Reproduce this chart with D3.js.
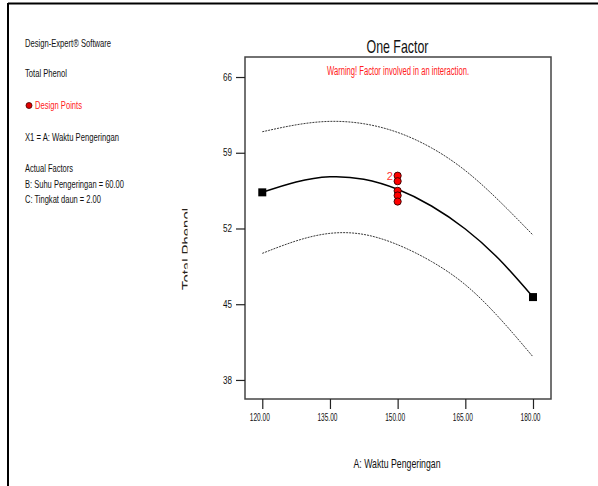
<!DOCTYPE html>
<html>
<head>
<meta charset="utf-8">
<script src="https://cdn.jsdelivr.net/npm/d3@7"></script>
<style>
  body { margin: 0; background: #fff; }
  svg { display: block; font-family: "Liberation Sans", Arial, sans-serif; }
</style>
</head>
<body>
<div id="chart"></div>
<script>
var xLevels = [120, 127.5, 135, 142.5, 150, 157.5, 165, 172.5, 180];
var predicted = [55.34, 56.3, 56.78, 56.55, 55.62, 54.08, 51.95, 49.15, 45.66];
var upperCI = [60.94, 61.58, 61.9, 61.68, 60.88, 59.45, 57.35, 54.55, 51.39];
var lowerCI = [49.7, 50.85, 51.55, 51.45, 50.5, 48.95, 46.8, 43.75, 40.14];

// observed runs at the centre point (first one is doubled)
var designX = [150, 150, 150, 150, 150];
var designY = [56.88, 56.37, 55.48, 55.05, 54.49];
var designCount = [2, 1, 1, 1, 1];

// end points shown as squares
var endX = [120, 180];
var endY = [55.34, 45.66];

var xTicks = [120, 135, 150, 165, 180];
var yTicks = [38, 45, 52, 59, 66];

var sideNotes = [
    {text: "Design-Expert\u00ae Software", y: 47, len: 86},
    {text: "Total Phenol", y: 77, len: 42},
    {text: "Design Points", y: 109, len: 47, red: true},
    {text: "X1 = A: Waktu Pengeringan", y: 141, len: 94},
    {text: "Actual Factors", y: 172, len: 48},
    {text: "B: Suhu Pengeringan = 60.00", y: 188, len: 99},
    {text: "C: Tingkat daun = 2.00", y: 203, len: 76}
];

var W = 598, H = 486;
var plotL = 245, plotR = 551, plotT = 57, plotB = 399;

var svg = d3.select("#chart").append("svg")
    .attr("width", W)
    .attr("height", H);

// outer frame (only top and left edges are visible)
svg.append("line").attr("x1", 8).attr("x2", W).attr("y1", 3.5).attr("y2", 3.5)
    .attr("stroke", "#000").attr("stroke-width", 2);
svg.append("line").attr("x1", 8).attr("x2", 8).attr("y1", 3).attr("y2", H)
    .attr("stroke", "#000").attr("stroke-width", 2);

var x = d3.scaleLinear().domain([116.17, 183.99]).range([plotL, plotR]);
var y = d3.scaleLinear().domain([36.24, 67.85]).range([plotB, plotT]);

// side legend text
svg.selectAll("text.note")
    .data(sideNotes)
    .enter().append("text")
    .attr("class", "note")
    .attr("x", function (d) { return d.red ? 35 : 25; })
    .attr("y", function (d) { return d.y; })
    .attr("font-size", 11)
    .attr("textLength", function (d) { return d.len; })
    .attr("lengthAdjust", "spacingAndGlyphs")
    .attr("fill", function (d) { return d.red ? "#ff2020" : "#111"; })
    .text(function (d) { return d.text; });

svg.append("circle").attr("cx", 29).attr("cy", 105.5).attr("r", 3)
    .attr("fill", "#e00000").attr("stroke", "#400").attr("stroke-width", 0.8);

// plot frame
svg.append("rect")
    .attr("x", plotL).attr("y", plotT)
    .attr("width", plotR - plotL).attr("height", plotB - plotT)
    .attr("fill", "none").attr("stroke", "#444").attr("stroke-width", 1.5);

// axes
var yAxis = d3.axisLeft(y).tickValues(yTicks).tickSize(9).tickFormat(d3.format("d"));
var gy = svg.append("g").attr("transform", "translate(" + plotL + ",0)").call(yAxis);
gy.select(".domain").remove();
gy.selectAll(".tick line").attr("stroke", "#222").attr("stroke-width", 1.2);
gy.selectAll(".tick text")
    .attr("font-size", 10)
    .attr("font-family", "Liberation Sans, Arial, sans-serif")
    .attr("fill", "#111")
    .attr("x", -13)
    .attr("textLength", 9)
    .attr("lengthAdjust", "spacingAndGlyphs");

var xAxis = d3.axisBottom(x).tickValues(xTicks).tickSize(10).tickFormat(d3.format(".2f"));
var gx = svg.append("g").attr("transform", "translate(0," + plotB + ")").call(xAxis);
gx.select(".domain").remove();
gx.selectAll(".tick line").attr("stroke", "#222").attr("stroke-width", 1.2);
gx.selectAll(".tick text")
    .attr("font-size", 10)
    .attr("font-family", "Liberation Sans, Arial, sans-serif")
    .attr("fill", "#111")
    .attr("y", 15)
    .attr("dx", -3)
    .attr("textLength", 20)
    .attr("lengthAdjust", "spacingAndGlyphs");

// titles
svg.append("text").attr("x", 397.5).attr("y", 53).attr("text-anchor", "middle")
    .attr("font-size", 19).attr("fill", "#111")
    .attr("textLength", 62).attr("lengthAdjust", "spacingAndGlyphs")
    .text("One Factor");

svg.append("text").attr("x", 398).attr("y", 75).attr("text-anchor", "middle")
    .attr("font-size", 12).attr("fill", "#ff2020")
    .attr("textLength", 142).attr("lengthAdjust", "spacingAndGlyphs")
    .text("Warning! Factor involved in an interaction.");

svg.append("text").attr("x", 397).attr("y", 468).attr("text-anchor", "middle")
    .attr("font-size", 13).attr("fill", "#111")
    .attr("textLength", 87).attr("lengthAdjust", "spacingAndGlyphs")
    .text("A: Waktu Pengeringan");

// y title is partly cut off in the original
svg.append("clipPath").attr("id", "ytclip")
    .append("rect").attr("x", 170).attr("y", 190).attr("width", 17.5).attr("height", 120);
svg.append("g")
    .attr("clip-path", "url(#ytclip)")
    .append("text")
    .attr("transform", "translate(191,249) rotate(-90)")
    .attr("text-anchor", "middle")
    .attr("font-size", 13).attr("fill", "#222")
    .attr("textLength", 82).attr("lengthAdjust", "spacingAndGlyphs")
    .text("Total Phenol");

// curves
var line = function (vals) {
    return d3.line()
        .x(function (d, i) { return x(xLevels[i]); })
        .y(function (d) { return y(d); })
        .curve(d3.curveNatural)(vals);
};

[upperCI, lowerCI].forEach(function (vals) {
    svg.append("path").attr("d", line(vals))
        .attr("fill", "none").attr("stroke", "#222")
        .attr("stroke-width", 0.9).attr("stroke-dasharray", "2,1");
});

svg.append("path").attr("d", line(predicted))
    .attr("fill", "none").attr("stroke", "#000").attr("stroke-width", 1.5);

// end squares
svg.selectAll("rect.end")
    .data(endX)
    .enter().append("rect")
    .attr("class", "end")
    .attr("x", function (d) { return x(d) - 4; })
    .attr("y", function (d, i) { return y(endY[i]) - 4; })
    .attr("width", 8).attr("height", 8)
    .attr("fill", "#000");

// design points
svg.selectAll("circle.pt")
    .data(designY)
    .enter().append("circle")
    .attr("class", "pt")
    .attr("cx", function (d, i) { return x(designX[i]); })
    .attr("cy", function (d) { return y(d); })
    .attr("r", 3.6)
    .attr("fill", "#ff0000")
    .attr("stroke", "#300")
    .attr("stroke-width", 0.9);

svg.selectAll("text.cnt")
    .data(designY.filter(function (d, i) { return designCount[i] > 1; }))
    .enter().append("text")
    .attr("class", "cnt")
    .attr("x", function () { return x(150) - 11; })
    .attr("y", function (d) { return y(d) + 4; })
    .attr("font-size", 11)
    .attr("fill", "#ff3030")
    .text(function (d, i) { return designCount[i]; });
</script>
</body>
</html>
